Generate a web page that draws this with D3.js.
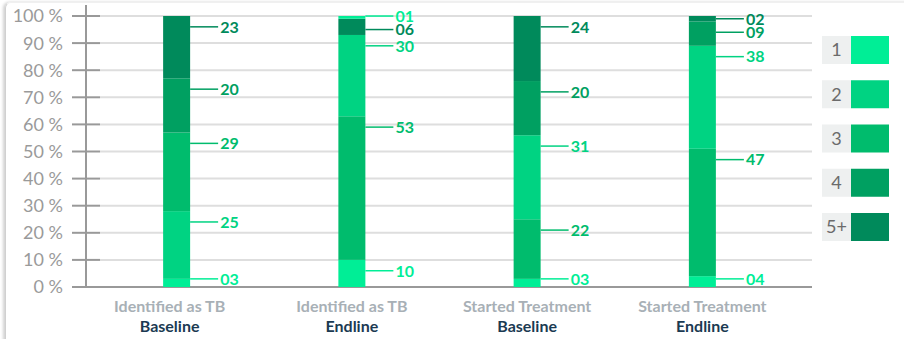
<!DOCTYPE html>
<html>
<head>
<meta charset="utf-8">
<script src="https://cdn.jsdelivr.net/npm/d3@7"></script>
<style>
  body { margin: 0; background: #fff; font-family: Lato, "Open Sans", sans-serif; }
  #card {
    position: absolute; left: 5px; top: 2px; width: 960px; height: 400px;
    border-radius: 6px; border-left: 1px solid #d0d0d0; border-top: 1px solid #f0f0f0;
    box-shadow: -2px 0 3px rgba(0,0,0,0.18);
  }
  #chart { position: absolute; left: 0; top: 0; }
</style>
</head>
<body>
<div id="card"></div>
<svg id="chart" width="904" height="339"></svg>
<script>
// chart data
const categories = ["Identified as TB", "Identified as TB", "Started Treatment", "Started Treatment"];
const phases = ["Baseline", "Endline", "Baseline", "Endline"];
const legendKeys = ["1", "2", "3", "4", "5+"];
const legendColors = ["#00ee96", "#00d382", "#00bc6d", "#00a061", "#008a5b"];
// stacked segments, bottom to top, for each bar
const segValues = [
  [3, 25, 29, 20, 23],
  [10, 53, 30, 6, 1],
  [3, 22, 31, 20, 24],
  [4, 47, 38, 9, 2]
];
const segKeys = [
  ["1", "2", "3", "4", "5+"],
  ["1", "3", "2", "5+", "1"],
  ["1", "3", "2", "4", "5+"],
  ["1", "3", "2", "4", "5+"]
];
const yTicks = [0, 10, 20, 30, 40, 50, 60, 70, 80, 90, 100];

const svg = d3.select("#chart");

const y = d3.scaleLinear().domain([0, 100]).range([287, 16]);
const x = d3.scalePoint().domain(d3.range(categories.length)).range([89, 790]).padding(0.5);
const color = d3.scaleOrdinal().domain(legendKeys).range(legendColors);
const barW = 27;
const fmt = v => String(v).padStart(2, "0");

// grid
svg.append("g").selectAll("line").data(yTicks.filter(d => d > 0)).join("line")
  .attr("x1", 100).attr("x2", 812)
  .attr("y1", d => y(d)).attr("y2", d => y(d))
  .attr("stroke", "#dedede").attr("stroke-width", 2);

// axis
const axis = svg.append("g");
axis.append("line").attr("x1", 86).attr("x2", 86).attr("y1", 5).attr("y2", y(0))
  .attr("stroke", "#999").attr("stroke-width", 2);
axis.selectAll(".tk").data(yTicks).join("line").attr("class", "tk")
  .attr("x1", 72).attr("x2", 100)
  .attr("y1", d => y(d)).attr("y2", d => y(d))
  .attr("stroke", "#999").attr("stroke-width", 2);
axis.selectAll("text").data(yTicks).join("text")
  .attr("x", 63).attr("y", d => y(d)).attr("dy", "0.36em")
  .attr("text-anchor", "end")
  .attr("font-size", 18).attr("fill", "#9a9a9a")
  .text(d => d + " %");
axis.append("line").attr("x1", 72).attr("x2", 812).attr("y1", y(0)).attr("y2", y(0))
  .attr("stroke", "#999").attr("stroke-width", 2);

// bars + labels
segValues.forEach((vals, i) => {
  const cx = x(i);
  let acc = 0;
  const segs = vals.map((v, j) => {
    const s = { v: v, key: segKeys[i][j], y0: acc, y1: acc + v };
    acc += v;
    return s;
  });
  const g = svg.append("g");
  g.selectAll("rect").data(segs).join("rect")
    .attr("x", cx - barW / 2).attr("width", barW)
    .attr("y", d => y(d.y1)).attr("height", d => y(d.y0) - y(d.y1))
    .attr("fill", d => color(d.key));

  // label positions, pushed up so they don't overlap
  let prev = Infinity;
  segs.forEach(s => {
    let ly = y(Math.max(s.y1 - 4, 3));
    ly = Math.min(ly, prev - 13.5);
    s.ly = ly;
    prev = ly;
  });
  const xr = cx + barW / 2;
  g.selectAll("line").data(segs).join("line")
    .attr("x1", xr).attr("x2", xr + 28)
    .attr("y1", d => d.ly).attr("y2", d => d.ly)
    .attr("stroke", d => color(d.key)).attr("stroke-width", 1.5);
  g.selectAll("text").data(segs).join("text")
    .attr("x", xr + 30).attr("y", d => d.ly).attr("dy", "0.36em")
    .attr("font-size", 16).attr("font-weight", 700)
    .attr("fill", d => color(d.key))
    .text(d => fmt(d.v));

  const lx = i === 0 ? cx - 7 : cx;
  svg.append("text").attr("x", lx).attr("y", 312)
    .attr("text-anchor", "middle").attr("font-size", 16).attr("font-weight", 700)
    .attr("fill", "#a8b0b6").text(categories[i]);
  svg.append("text").attr("x", lx).attr("y", 332)
    .attr("text-anchor", "middle").attr("font-size", 16).attr("font-weight", 700)
    .attr("fill", "#1b3a52").text(phases[i]);
});

// legend
const leg = svg.append("g").selectAll("g").data(legendKeys).join("g")
  .attr("transform", (d, i) => `translate(822, ${36 + i * 44.25})`);
leg.append("rect").attr("width", 29).attr("height", 28).attr("fill", "#eef0f0");
leg.append("rect").attr("x", 29).attr("width", 38).attr("height", 28).attr("fill", d => color(d));
leg.append("text").attr("x", 14.5).attr("y", 14).attr("dy", "0.36em")
  .attr("text-anchor", "middle").attr("font-size", 18).attr("fill", "#6b6b6b")
  .text(d => d);
</script>
</body>
</html>
